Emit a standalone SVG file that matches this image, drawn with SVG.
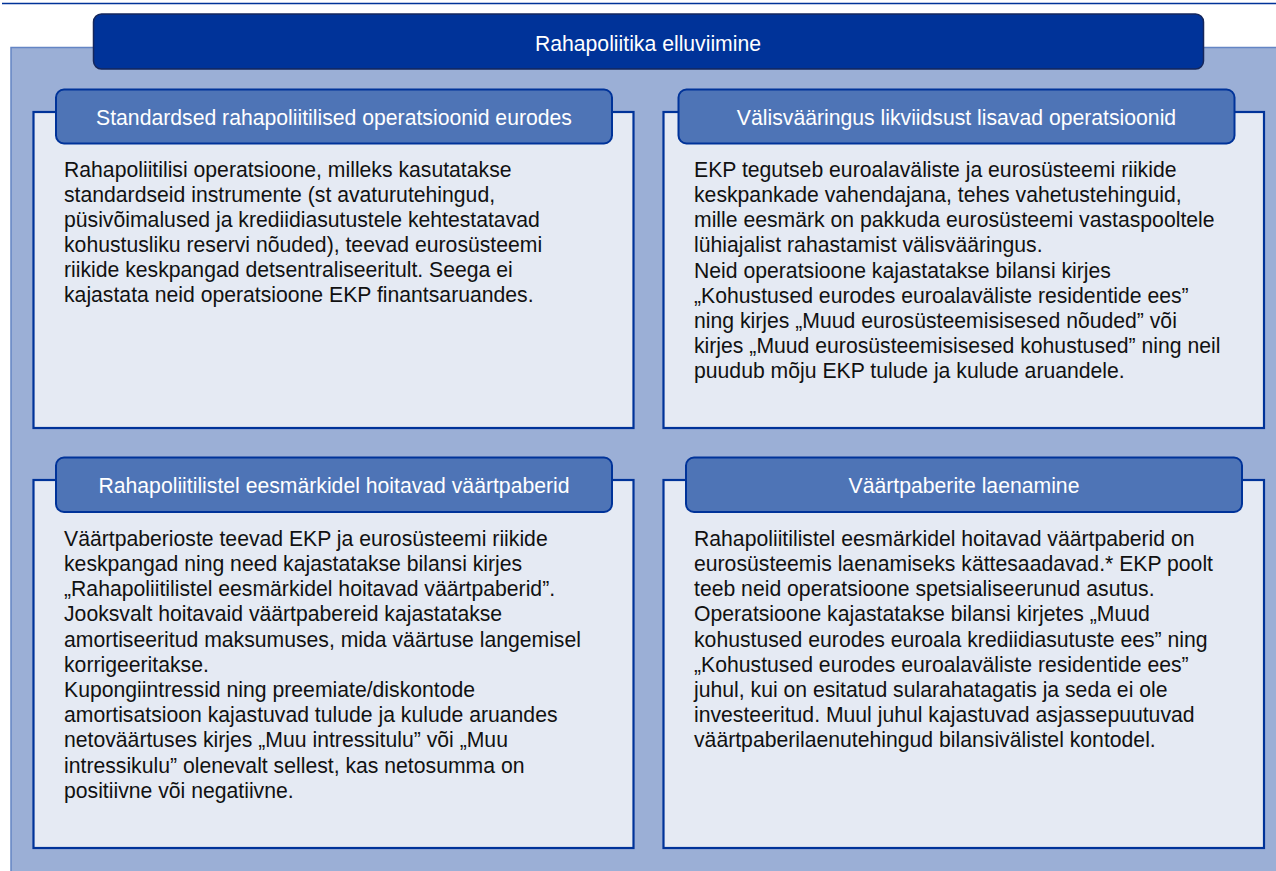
<svg xmlns="http://www.w3.org/2000/svg" width="1276" height="871" viewBox="0 0 1276 871">
<style>
.bg{fill:#9BAFD6;stroke:#6485C4;stroke-width:1.5}
.title{fill:#003399;stroke:#15275C;stroke-width:1.5}
.body{fill:#E5EAF3;stroke:#003399;stroke-width:2.2}
.head{fill:#4E74B6;stroke:#003399;stroke-width:2}
.ht{font-family:"Liberation Sans",Arial,sans-serif;font-size:21.2px;fill:#FFFFFF;text-anchor:middle}
.bt{font-family:"Liberation Sans",Arial,sans-serif;font-size:21.2px;fill:#111111}
</style>
<rect width="1276" height="871" fill="#FFFFFF"/>
<line x1="2" y1="3.5" x2="1276" y2="3.5" stroke="#003399" stroke-width="1.6"/>
<rect class="bg" x="11" y="47.5" width="1290" height="840"/>
<g id="title">
<rect class="title" x="93.5" y="14" width="1110" height="55" rx="8"/>
<text class="ht" x="648" y="50.5">Rahapoliitika elluviimine</text>
</g>
<g id="panel-tl">
<rect class="body" x="33.5" y="112" width="600" height="316"/>
<rect class="head" x="56" y="89.5" width="556" height="54" rx="8"/>
<text class="ht" x="334" y="124.5">Standardsed rahapoliitilised operatsioonid eurodes</text>
<text class="bt" x="64" y="176.7">
<tspan x="64">Rahapoliitilisi operatsioone, milleks kasutatakse</tspan>
<tspan x="64" dy="25.1">standardseid instrumente (st avaturutehingud,</tspan>
<tspan x="64" dy="25.1">püsivõimalused ja krediidiasutustele kehtestatavad</tspan>
<tspan x="64" dy="25.1">kohustusliku reservi nõuded), teevad eurosüsteemi</tspan>
<tspan x="64" dy="25.1">riikide keskpangad detsentraliseeritult. Seega ei</tspan>
<tspan x="64" dy="25.1">kajastata neid operatsioone EKP finantsaruandes.</tspan>
</text>
</g>
<g id="panel-tr">
<rect class="body" x="663.5" y="112" width="600.5" height="316"/>
<rect class="head" x="678.5" y="89.5" width="556" height="54" rx="8"/>
<text class="ht" x="956.5" y="124.5">Välisvääringus likviidsust lisavad operatsioonid</text>
<text class="bt" x="694" y="176.7">
<tspan x="694">EKP tegutseb euroalaväliste ja eurosüsteemi riikide</tspan>
<tspan x="694" dy="25.2">keskpankade vahendajana, tehes vahetustehinguid,</tspan>
<tspan x="694" dy="25.2">mille eesmärk on pakkuda eurosüsteemi vastaspooltele</tspan>
<tspan x="694" dy="25.2">lühiajalist rahastamist välisvääringus.</tspan>
<tspan x="694" dy="25.2">Neid operatsioone kajastatakse bilansi kirjes</tspan>
<tspan x="694" dy="25.2">„Kohustused eurodes euroalaväliste residentide ees”</tspan>
<tspan x="694" dy="25.2">ning kirjes „Muud eurosüsteemisisesed nõuded” või</tspan>
<tspan x="694" dy="25.2">kirjes „Muud eurosüsteemisisesed kohustused” ning neil</tspan>
<tspan x="694" dy="25.2">puudub mõju EKP tulude ja kulude aruandele.</tspan>
</text>
</g>
<g id="panel-bl">
<rect class="body" x="33.5" y="480" width="600" height="368"/>
<rect class="head" x="56" y="457.5" width="556" height="54.5" rx="8"/>
<text class="ht" x="334" y="493.3">Rahapoliitilistel eesmärkidel hoitavad väärtpaberid</text>
<text class="bt" x="64" y="545.7">
<tspan x="64">Väärtpaberioste teevad EKP ja eurosüsteemi riikide</tspan>
<tspan x="64" dy="25.2">keskpangad ning need kajastatakse bilansi kirjes</tspan>
<tspan x="64" dy="25.2">„Rahapoliitilistel eesmärkidel hoitavad väärtpaberid”.</tspan>
<tspan x="64" dy="25.2">Jooksvalt hoitavaid väärtpabereid kajastatakse</tspan>
<tspan x="64" dy="25.2">amortiseeritud maksumuses, mida väärtuse langemisel</tspan>
<tspan x="64" dy="25.2">korrigeeritakse.</tspan>
<tspan x="64" dy="25.2">Kupongiintressid ning preemiate/diskontode</tspan>
<tspan x="64" dy="25.2">amortisatsioon kajastuvad tulude ja kulude aruandes</tspan>
<tspan x="64" dy="25.2">netoväärtuses kirjes „Muu intressitulu” või „Muu</tspan>
<tspan x="64" dy="25.2">intressikulu” olenevalt sellest, kas netosumma on</tspan>
<tspan x="64" dy="25.2">positiivne või negatiivne.</tspan>
</text>
</g>
<g id="panel-br">
<rect class="body" x="663.5" y="480" width="600.5" height="368"/>
<rect class="head" x="686" y="457.5" width="556" height="54.5" rx="8"/>
<text class="ht" x="964" y="493.3">Väärtpaberite laenamine</text>
<text class="bt" x="694" y="545.7">
<tspan x="694">Rahapoliitilistel eesmärkidel hoitavad väärtpaberid on</tspan>
<tspan x="694" dy="25.2">eurosüsteemis laenamiseks kättesaadavad.* EKP poolt</tspan>
<tspan x="694" dy="25.2">teeb neid operatsioone spetsialiseerunud asutus.</tspan>
<tspan x="694" dy="25.2">Operatsioone kajastatakse bilansi kirjetes „Muud</tspan>
<tspan x="694" dy="25.2">kohustused eurodes euroala krediidiasutuste ees” ning</tspan>
<tspan x="694" dy="25.2">„Kohustused eurodes euroalaväliste residentide ees”</tspan>
<tspan x="694" dy="25.2">juhul, kui on esitatud sularahatagatis ja seda ei ole</tspan>
<tspan x="694" dy="25.2">investeeritud. Muul juhul kajastuvad asjassepuutuvad</tspan>
<tspan x="694" dy="25.2">väärtpaberilaenutehingud bilansivälistel kontodel.</tspan>
</text>
</g>
<g id="connectors"></g>
</svg>
